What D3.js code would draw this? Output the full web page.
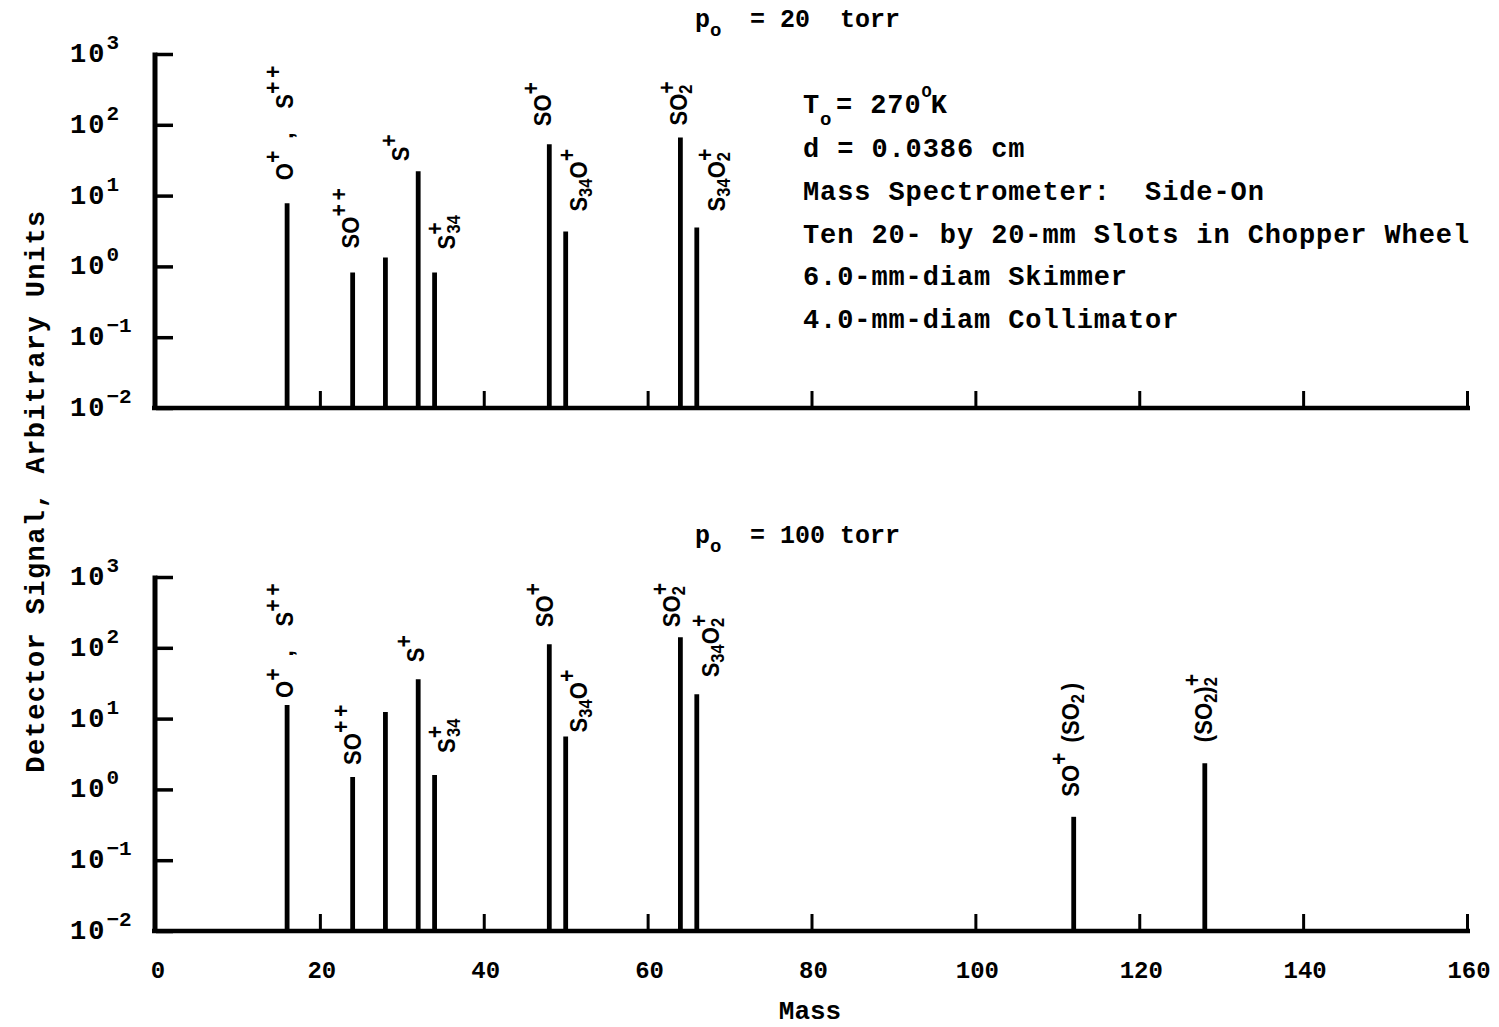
<!DOCTYPE html>
<html>
<head>
<meta charset="utf-8">
<script src="https://cdn.jsdelivr.net/npm/d3@7"></script>
<style>
  body { margin: 0; background: #fff; }
  text { fill: #000; white-space: pre; }
</style>
</head>
<body>
<div id="chart"></div>
<script>
// peaks (mass in amu, signal in arbitrary units)
let massTop = [16, 24, 28, 32, 34, 48, 50, 64, 66];
let signalTop = [7.8, 0.82, 1.34, 22, 0.82, 53, 3.1, 66, 3.55];
let massBottom = [16, 24, 28, 32, 34, 48, 50, 64, 66, 112, 128];
let signalBottom = [15.6, 1.5, 12.4, 36, 1.6, 112, 5.6, 141, 22, 0.41, 2.35];

let massTicks = [0, 20, 40, 60, 80, 100, 120, 140, 160];
let decades = [-2, -1, 0, 1, 2, 3];

let titles = ["20  torr", "100 torr"];
let notes = ["d = 0.0386 cm", "Mass Spectrometer:  Side-On",
    "Ten 20- by 20-mm Slots in Chopper Wheel", "6.0-mm-diam Skimmer",
    "4.0-mm-diam Collimator"];

// ion names, as pieces: [text, kind, extra spacing]
let ionNames = {
    16: [["O"], ["+", "sup"], [",", "", 9], ["S", "", 26], ["++", "sup"]],
    24: [["SO"], ["++", "sup"]],
    32: [["S"], ["+", "sup"]],
    34: [["S"], ["+", "sup"], ["34", "sub", -16]],
    48: [["SO"], ["+", "sup"]],
    50: [["S"], ["34", "sub"], ["O"], ["+", "sup"]],
    64: [["SO"], ["2", "sub"], ["+", "sup", -10]],
    66: [["S"], ["34", "sub"], ["O"], ["2", "sub"], ["+", "sup", -10]],
    112: [["SO"], ["+", "sup"], ["(", "", 7], ["SO"], ["2", "sub"], [")", "", 4]],
    128: [["("], ["SO"], ["2", "sub"], [")"], ["2", "sub"], ["+", "sup", -10]]
};

// where each name sits: [shift right of the bar, gap above the bar top]
let labelPosTop = {16: [6, 23], 24: [6, 24], 32: [-9, 10], 34: [20, 23],
    48: [2, 18], 50: [21, 20], 64: [7, 12], 66: [28, 16]};
let labelPosBottom = {16: [6, 7], 24: [8, 12], 32: [6, 17], 34: [20, 22],
    48: [4, 17], 50: [21, 4], 64: [0, 10], 66: [22, 17], 112: [5, 20], 128: [7, 21]};

let width = 1499, height = 1027;
let mono = "'Liberation Mono', 'DejaVu Sans Mono', monospace";
let sans = "'Liberation Sans', Arial, sans-serif";

let svg = d3.select("#chart")
    .append("svg")
        .attr("width", width)
        .attr("height", height);

let x = d3.scaleLinear()
    .domain([0, 160])
    .range([156, 1467]);

let shifts = {"": 0, sup: -12, sub: 5};
let sizes = {"": 24, sup: 23, sub: 18};

function drawPanel(masses, signals, labelPos, yBottom, yTop, withLabels)
{
    let y = d3.scaleLog()
        .domain([0.01, 1000])
        .range([yBottom, yTop]);

    let g = svg.append("g");

    // peaks
    g.selectAll("line.peak")
        .data(masses)
        .enter()
        .append("line")
            .attr("class", "peak")
            .attr("x1", d => x(d))
            .attr("x2", d => x(d))
            .attr("y1", y(0.01))
            .attr("y2", (d, i) => y(signals[i]))
            .attr("stroke", "#000")
            .attr("stroke-width", 4.8);

    // x axis, ticks pointing up
    let xAxisCall = d3.axisBottom(x)
        .tickValues(massTicks.slice(1))
        .tickSize(-17)
        .tickSizeOuter(0)
        .tickFormat("");
    let xg = g.append("g")
        .attr("transform", "translate(0, " + yBottom + ")")
        .call(xAxisCall);
    xg.select(".domain").remove();
    xg.selectAll(".tick line").attr("stroke-width", 3);
    g.append("line")
        .attr("x1", 152).attr("x2", 1470)
        .attr("y1", yBottom).attr("y2", yBottom)
        .attr("stroke", "#000").attr("stroke-width", 4.5);

    // y axis, ticks pointing right
    let yAxisCall = d3.axisLeft(y)
        .tickValues(decades.map(e => Math.pow(10, e)))
        .tickSize(-17)
        .tickSizeOuter(0)
        .tickFormat("");
    let yg = g.append("g")
        .attr("transform", "translate(" + x(0) + ", 0)")
        .call(yAxisCall);
    yg.select(".domain").remove();
    yg.selectAll(".tick line").attr("stroke-width", 3.5);
    g.append("line")
        .attr("x1", x(0) - 1).attr("x2", x(0) - 1)
        .attr("y1", yTop - 1.5).attr("y2", yBottom + 2)
        .attr("stroke", "#000").attr("stroke-width", 5);

    // 10^n labels
    decades.forEach(e => {
        let t = g.append("text")
            .attr("x", 70)
            .attr("y", y(Math.pow(10, e)) + 8)
            .attr("font-family", mono)
            .attr("font-weight", "bold")
            .attr("font-size", "27px")
            .attr("letter-spacing", "2px");
        t.append("tspan").text("10");
        t.append("tspan")
            .attr("dy", -13)
            .attr("font-size", "21px")
            .attr("letter-spacing", "0px")
            .text(e < 0 ? "\u2212" + (-e) : e);
    });

    // ion names, written upward
    masses.forEach((m, i) => {
        if (!labelPos[m]) return;
        let pos = labelPos[m];
        let t = g.append("text")
            .attr("transform", "translate(" + (x(m) + pos[0]) + ", "
                + (y(signals[i]) - pos[1]) + ") rotate(-90) scale(0.92, 1)")
            .attr("font-family", sans)
            .attr("font-weight", "bold")
            .attr("font-size", "24px");
        let cur = 0;
        ionNames[m].forEach(p => {
            let kind = p[1] || "";
            t.append("tspan")
                .attr("dx", p[2] || 0)
                .attr("dy", shifts[kind] - cur)
                .attr("font-size", sizes[kind] + "px")
                .attr("letter-spacing", kind == "sup" ? "4px" : "0px")
                .text(p[0]);
            cur = shifts[kind];
        });
    });

    if (withLabels) {
        g.selectAll("text.mass")
            .data(massTicks)
            .enter()
            .append("text")
                .attr("class", "mass")
                .attr("x", d => x(d) + 2)
                .attr("y", 978)
                .attr("text-anchor", "middle")
                .attr("font-family", mono)
                .attr("font-weight", "bold")
                .attr("font-size", "24px")
                .text(d => d);
    }
}

drawPanel(massTop, signalTop, labelPosTop, 408, 54, false);
drawPanel(massBottom, signalBottom, labelPosBottom, 931, 577, true);

// panel titles  p_o = ...
function title(label, baseline)
{
    let t = svg.append("text")
        .attr("x", 695)
        .attr("y", baseline)
        .attr("font-family", mono)
        .attr("font-weight", "bold")
        .attr("font-size", "25px");
    t.append("tspan").text("p");
    t.append("tspan").attr("dy", 9).attr("font-size", "19px").text("o");
    t.append("tspan").attr("x", 750).attr("dy", -9).text("= " + label);
}
title(titles[0], 27);
title(titles[1], 543);

// run conditions
let note = svg.append("text")
    .attr("x", 803)
    .attr("y", 113)
    .attr("font-family", mono)
    .attr("font-weight", "bold")
    .attr("font-size", "27px")
    .attr("letter-spacing", "0.9px");
note.append("tspan").text("T");
note.append("tspan").attr("dy", 12).attr("font-size", "19px").text("o");
note.append("tspan").attr("x", 836).attr("dy", -12).text("= 270");
note.append("tspan").attr("dy", -16).attr("font-size", "17px").text("O");
note.append("tspan").attr("dy", 16).attr("dx", -2).text("K");

svg.selectAll("text.note")
    .data(notes)
    .enter()
    .append("text")
        .attr("class", "note")
        .attr("x", 803)
        .attr("y", (d, i) => [157, 200, 243, 285, 328][i])
        .attr("font-family", mono)
        .attr("font-weight", "bold")
        .attr("font-size", "27px")
        .attr("letter-spacing", "0.9px")
        .text(d => d);

// axis titles
svg.append("text")
    .attr("x", 810)
    .attr("y", 1019)
    .attr("text-anchor", "middle")
    .attr("font-family", mono)
    .attr("font-weight", "bold")
    .attr("font-size", "26px")
    .text("Mass");

svg.append("text")
    .attr("transform", "translate(44, 491) rotate(-90)")
    .attr("text-anchor", "middle")
    .attr("font-family", mono)
    .attr("font-weight", "bold")
    .attr("font-size", "27px")
    .attr("letter-spacing", "1.4px")
    .text("Detector Signal, Arbitrary Units");
</script>
</body>
</html>
